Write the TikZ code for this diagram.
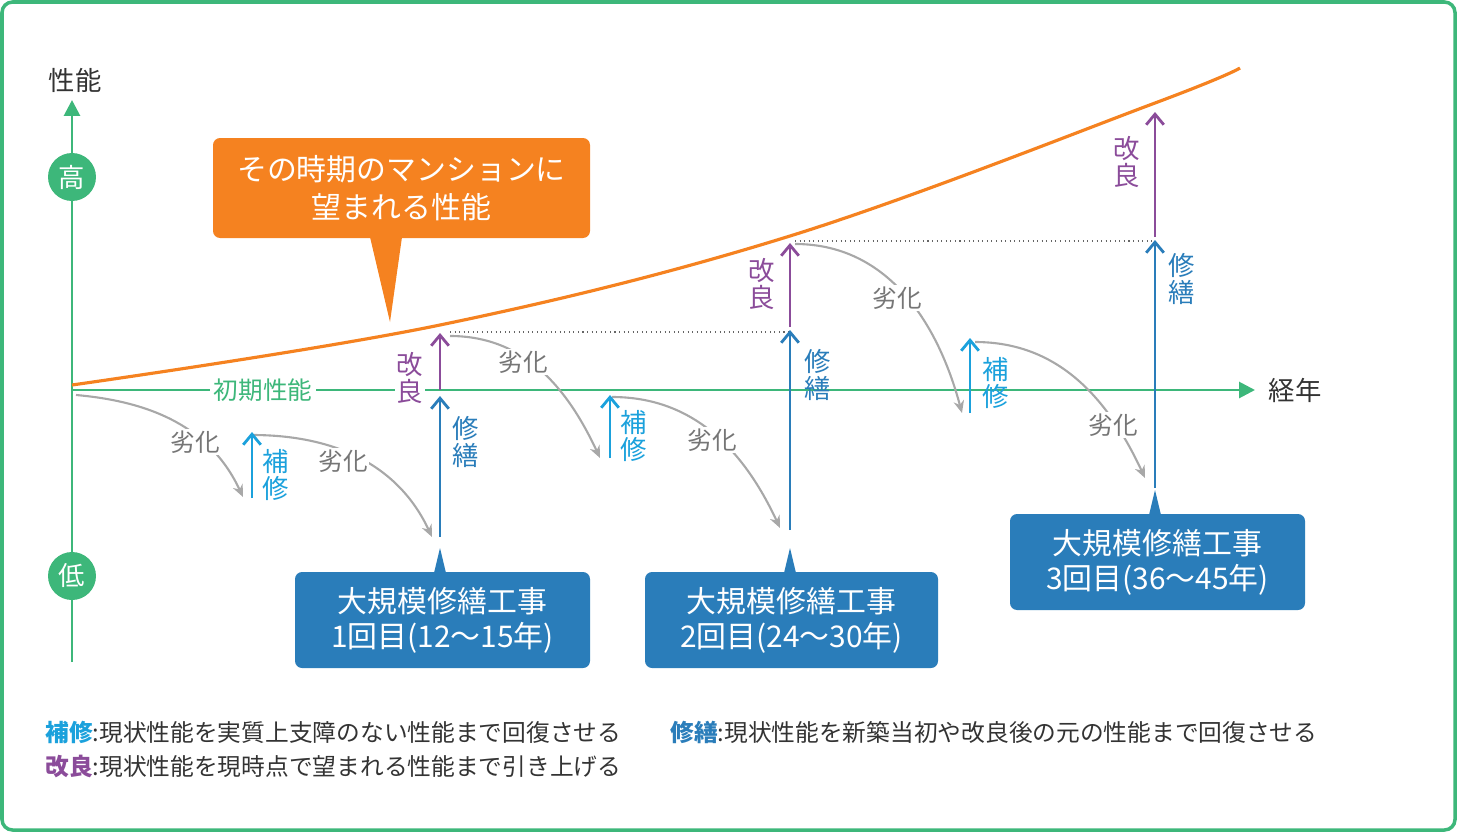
\documentclass[tikz,border=0pt]{standalone}
\usepackage{fontspec}
\setmainfont{Noto Sans CJK JP}
\usetikzlibrary{arrows.meta}
\definecolor{gr}{HTML}{3DB77A}
\definecolor{og}{HTML}{F58220}
\definecolor{cy}{HTML}{1BA1DC}
\definecolor{db}{HTML}{2A7DBA}
\definecolor{pu}{HTML}{8B4C9A}
\definecolor{gy}{HTML}{A8A8A8}
\definecolor{tx}{HTML}{333333}
\begin{document}
\begin{tikzpicture}[x=0.02cm,y=-0.02cm,
 deg/.style={gy,line width=1.2pt,-{Stealth[open,length=7pt,width=6pt]}},
 hosyu/.style={cy,line width=1.6pt,-{Straight Barb[length=6pt,width=10pt]}},
 syuzen/.style={db,line width=1.6pt,-{Straight Barb[length=6pt,width=10pt]}},
 kairyo/.style={pu,line width=1.6pt,-{Straight Barb[length=6pt,width=10pt]}},
 lbl/.style={font=\fontsize{15}{15}\selectfont,align=center,inner sep=0pt},
 degl/.style={text=gy!70!black,font=\fontsize{14}{14}\selectfont},
 bbox/.style={fill=db,rounded corners=4pt,text=white,align=center,font=\fontsize{17}{20}\selectfont},
 circ/.style={circle,fill=gr,text=white,minimum size=0.96cm,inner sep=0pt,font=\fontsize{15}{15}\selectfont}]
\useasboundingbox (0,0) rectangle (1457,832);
\draw[gr,line width=2pt,rounded corners=6pt] (2,2) rectangle (1455,830);
% axes
\coordinate (y0) at (72,662); \coordinate (y1) at (72,100);
\draw[gr,line width=1.6pt,-{Triangle[length=9pt,width=9pt]}] (y0) -- (y1);
\node[text=tx,font=\fontsize{15}{15}\selectfont] (perf) at (75,80) {性能};
\node[circ] (hi) at (72,177) {高};
\node[circ] (lo) at (72,576) {低};
\coordinate (x0) at (72,390); \coordinate (x1) at (1255,390);
\draw[gr,line width=1.6pt,-{Triangle[length=9pt,width=9pt]}] (x0) -- (x1);
\node[text=tx,font=\fontsize{15}{15}\selectfont] (year) at (1295,390) {経年};
\node[fill=white,text=gr,font=\fontsize{14}{14}\selectfont,inner sep=2pt] (init) at (263,390) {初期性能};
% curve
\draw[og,line width=1.8pt] plot[smooth,tension=0.6] coordinates {(72,385) (440,325) (790,236) (1155,103) (1240,68)};
% callout
\node[fill=og,rounded corners=4pt,text=white,align=center,minimum width=377*0.02cm,minimum height=100*0.02cm,font=\fontsize{17}{22}\selectfont] (call) at (401.5,188) {その時期のマンションに\\望まれる性能};
\coordinate (cp) at (390,322);
\fill[og] (370,237) -- (cp) -- (402,237) -- cycle;
% dotted
\coordinate (d1a) at (450,332); \coordinate (d1b) at (790,332);
\coordinate (d2a) at (795,241); \coordinate (d2b) at (1155,241);
\draw[black!60,dotted,line width=0.6pt] (d1a) -- (d1b);
\draw[black!60,dotted,line width=0.6pt] (d2a) -- (d2b);
% deterioration
\coordinate (a1) at (76,395); \coordinate (a2) at (243,497);
\coordinate (b1) at (252,435); \coordinate (b2) at (432,537);
\coordinate (c1) at (450,336); \coordinate (c2) at (600,458);
\coordinate (e1) at (612,397); \coordinate (e2) at (780,528);
\coordinate (f1) at (795,244); \coordinate (f2) at (962,413);
\coordinate (g1) at (975,342); \coordinate (g2) at (1145,478);
\draw[deg] (a1) to[out=-5,in=115] (a2);
\draw[deg] (b1) to[out=0,in=115] (b2);
\draw[deg] (c1) to[out=0,in=115] (c2);
\draw[deg] (e1) to[out=0,in=115] (e2);
\draw[deg] (f1) to[out=0,in=105] (f2);
\draw[deg] (g1) to[out=0,in=115] (g2);
\node[degl,fill=white,inner sep=1pt] (l1) at (195,442) {劣化};
\node[degl,fill=white,inner sep=1pt] (l2) at (343,461) {劣化};
\node[degl,fill=white,inner sep=1pt] (l3) at (523,362) {劣化};
\node[degl,fill=white,inner sep=1pt] (l4) at (712,440) {劣化};
\node[degl,fill=white,inner sep=1pt] (l5) at (897,298) {劣化};
\node[degl,fill=white,inner sep=1pt] (l6) at (1113,425) {劣化};
% repair arrows
\coordinate (h1a) at (252,498); \coordinate (h1b) at (252,432);
\coordinate (h2a) at (610,458); \coordinate (h2b) at (610,395);
\coordinate (h3a) at (970,413); \coordinate (h3b) at (970,338);
\draw[hosyu] (h1a) -- (h1b); \draw[hosyu] (h2a) -- (h2b); \draw[hosyu] (h3a) -- (h3b);
\node[lbl,text=cy] (hl1) at (276,475) {補\\修};
\node[lbl,text=cy] (hl2) at (634,436) {補\\修};
\node[lbl,text=cy] (hl3) at (996,383) {補\\修};
\coordinate (s1a) at (440,537); \coordinate (s1b) at (440,396);
\coordinate (s2a) at (790,530); \coordinate (s2b) at (790,330);
\coordinate (s3a) at (1155,488); \coordinate (s3b) at (1155,240);
\draw[syuzen] (s1a) -- (s1b); \draw[syuzen] (s2a) -- (s2b); \draw[syuzen] (s3a) -- (s3b);
\node[lbl,text=db] (sl1) at (466,442) {修\\繕};
\node[lbl,text=db] (sl2) at (818,375) {修\\繕};
\node[lbl,text=db] (sl3) at (1182,279) {修\\繕};
\coordinate (k1a) at (440,390); \coordinate (k1b) at (440,333);
\coordinate (k2a) at (790,327); \coordinate (k2b) at (790,243);
\coordinate (k3a) at (1155,237); \coordinate (k3b) at (1155,112);
\draw[kairyo] (k1a) -- (k1b); \draw[kairyo] (k2a) -- (k2b); \draw[kairyo] (k3a) -- (k3b);
\node[lbl,text=pu,fill=white,inner sep=1pt] (kl1) at (410,378) {改\\良};
\node[lbl,text=pu] (kl2) at (762,284) {改\\良};
\node[lbl,text=pu] (kl3) at (1127,162) {改\\良};
% boxes
\node[bbox,minimum width=295*0.02cm,minimum height=96*0.02cm] (B1) at (442.5,620) {大規模修繕工事\\1回目(12〜15年)};
\fill[db] (434,573) -- (440,548) -- (446,573) -- cycle;
\node[bbox,minimum width=293*0.02cm,minimum height=96*0.02cm] (B2) at (791.5,620) {大規模修繕工事\\2回目(24〜30年)};
\fill[db] (784,573) -- (790,548) -- (796,573) -- cycle;
\node[bbox,minimum width=295*0.02cm,minimum height=96*0.02cm] (B3) at (1157.5,562) {大規模修繕工事\\3回目(36〜45年)};
\fill[db] (1149,515) -- (1155,490) -- (1161,515) -- cycle;
% legend
\node[anchor=west,text=tx,font=\fontsize{13.5}{14}\selectfont,inner sep=0pt] (lg1) at (45,732) {\textcolor{cy}{\bfseries 補修}:現状性能を実質上支障のない性能まで回復させる};
\node[anchor=west,text=tx,font=\fontsize{13.5}{14}\selectfont,inner sep=0pt] (lg2) at (670,732) {\textcolor{db}{\bfseries 修繕}:現状性能を新築当初や改良後の元の性能まで回復させる};
\node[anchor=west,text=tx,font=\fontsize{13.5}{14}\selectfont,inner sep=0pt] (lg3) at (45,766) {\textcolor{pu}{\bfseries 改良}:現状性能を現時点で望まれる性能まで引き上げる};
\end{tikzpicture}
\end{document}
